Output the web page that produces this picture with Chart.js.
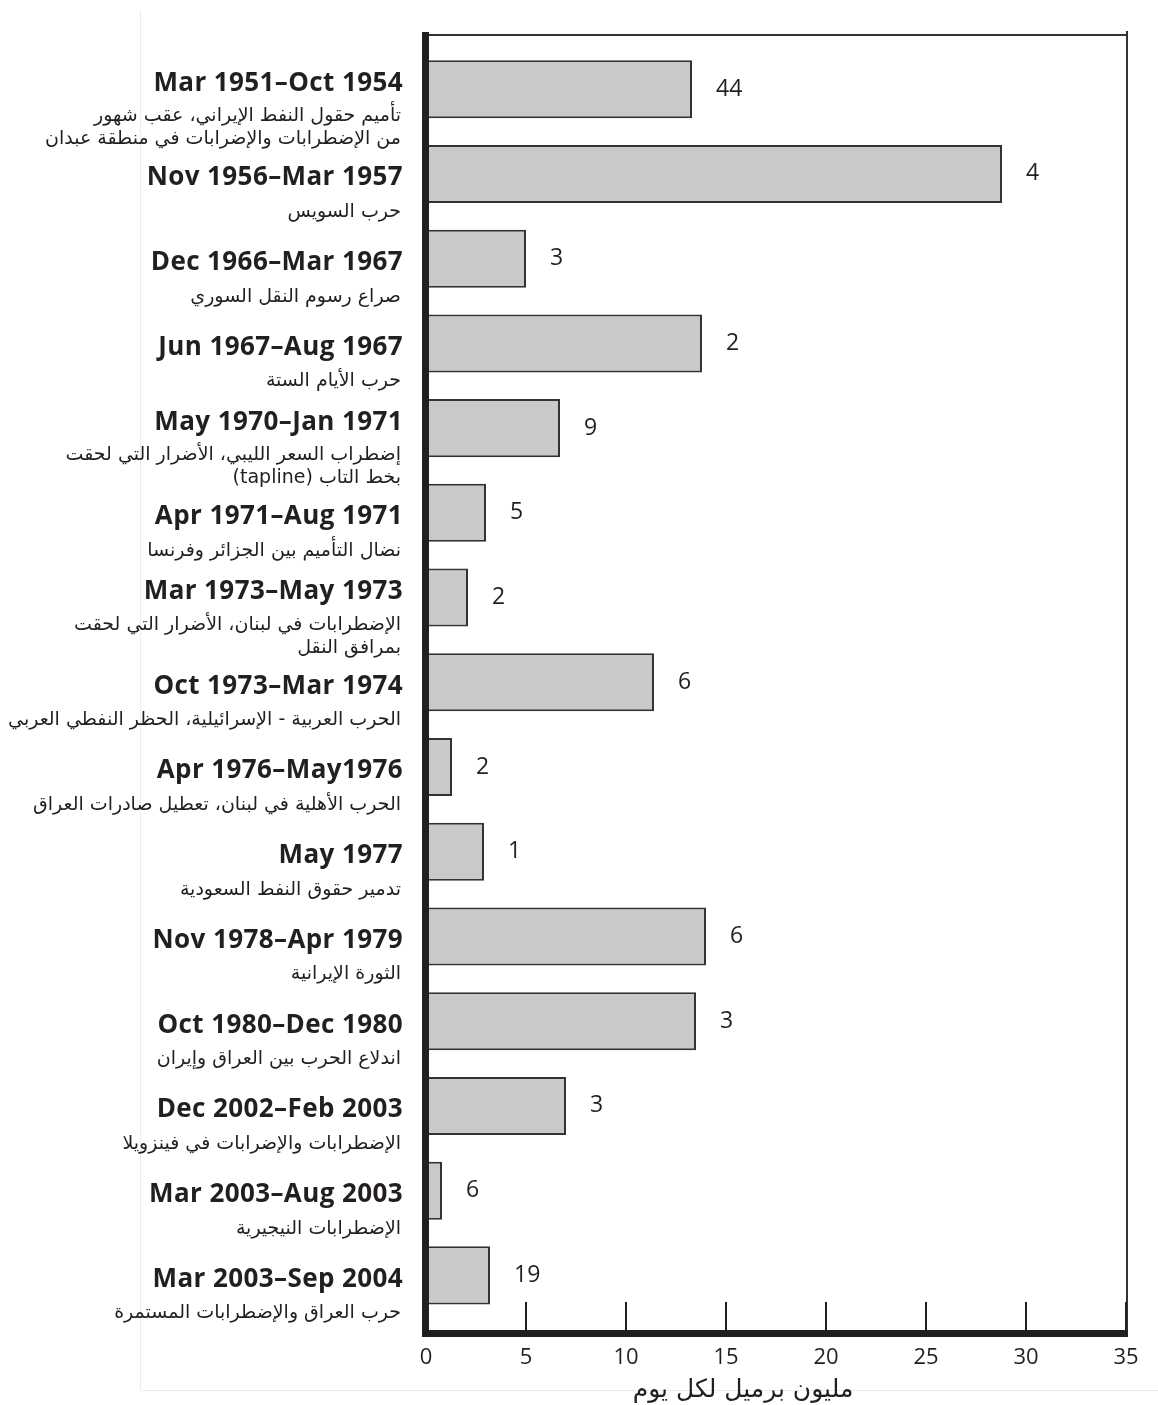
<!DOCTYPE html>
<html>
<head>
<meta charset="utf-8">
<script src="https://cdn.jsdelivr.net/npm/chart.js@4.4.0/dist/chart.umd.min.js"></script>
<style>
  html, body { margin: 0; padding: 0; background: #ffffff; }
  #wrap { width: 1158px; height: 1405px; }
</style>
</head>
<body>
<div id="wrap"><canvas id="c" width="1158" height="1405"></canvas></div>
<script>
// ---- data ----
const categories = [
  'Mar 1951–Oct 1954', 'Nov 1956–Mar 1957', 'Dec 1966–Mar 1967', 'Jun 1967–Aug 1967',
  'May 1970–Jan 1971', 'Apr 1971–Aug 1971', 'Mar 1973–May 1973', 'Oct 1973–Mar 1974',
  'Apr 1976–May1976', 'May 1977', 'Nov 1978–Apr 1979', 'Oct 1980–Dec 1980',
  'Dec 2002–Feb 2003', 'Mar 2003–Aug 2003', 'Mar 2003–Sep 2004'
];
const descriptions = [
  ['تأميم حقول النفط الإيراني، عقب شهور', 'من الإضطرابات والإضرابات في منطقة عبدان'],
  ['حرب السويس'],
  ['صراع رسوم النقل السوري'],
  ['حرب الأيام الستة'],
  ['إضطراب السعر الليبي، الأضرار التي لحقت', 'بخط التاب (tapline)'],
  ['نضال التأميم بين الجزائر وفرنسا'],
  ['الإضطرابات في لبنان، الأضرار التي لحقت', 'بمرافق النقل'],
  ['الحرب العربية - الإسرائيلية، الحظر النفطي العربي'],
  ['الحرب الأهلية في لبنان، تعطيل صادرات العراق'],
  ['تدمير حقوق النفط السعودية'],
  ['الثورة الإيرانية'],
  ['اندلاع الحرب بين العراق وإيران'],
  ['الإضطرابات والإضرابات في فينزويلا'],
  ['الإضطرابات النيجيرية'],
  ['حرب العراق والإضطرابات المستمرة']
];
const values = [13.3, 28.8, 5.0, 13.8, 6.7, 3.0, 2.1, 11.4, 1.3, 2.9, 14.0, 13.5, 7.0, 0.8, 3.2];
const durations = ['44', '4', '3', '2', '9', '5', '2', '6', '2', '1', '6', '3', '3', '6', '19'];
const xMin = 0, xMax = 35, xStep = 5;
const xTitle = 'مليون برميل لكل يوم';

// ---- drawing ----
const latin = '"Open Sans", "Noto Sans", sans-serif';
const arabic = '"DejaVu Sans", sans-serif';
const ink = '#231f20';

const decorPlugin = {
  id: 'decor',
  beforeDraw(chart) {
    const ctx = chart.ctx;
    ctx.save();
    ctx.fillStyle = '#ffffff';
    ctx.fillRect(0, 0, chart.width, chart.height);
    ctx.strokeStyle = '#ececec';
    ctx.lineWidth = 1;
    ctx.beginPath();
    ctx.moveTo(140.5, 10); ctx.lineTo(140.5, 1390.5); ctx.lineTo(chart.width, 1390.5);
    ctx.stroke();
    ctx.restore();
  },
  afterDraw(chart) {
    const ctx = chart.ctx;
    const a = chart.chartArea;
    const xs = chart.scales.x, ys = chart.scales.y;
    ctx.save();
    // thin frame (top & right)
    ctx.strokeStyle = '#333333';
    ctx.lineWidth = 2;
    ctx.beginPath();
    ctx.moveTo(a.left, a.top); ctx.lineTo(a.right + 1, a.top);
    ctx.moveTo(a.right + 1, a.top - 4); ctx.lineTo(a.right + 1, a.bottom);
    ctx.stroke();
    // inward ticks
    ctx.strokeStyle = ink;
    ctx.lineWidth = 2;
    ctx.beginPath();
    xs.ticks.forEach(t => {
      if (t.value === xMin) return;
      const px = Math.round(xs.getPixelForValue(t.value));
      ctx.moveTo(px, a.bottom); ctx.lineTo(px, a.bottom - 31);
    });
    ctx.stroke();
    // thick axes
    ctx.fillStyle = ink;
    ctx.fillRect(a.left - 4, a.top - 3, 7, a.bottom - a.top + 6);
    ctx.fillRect(a.left - 4, a.bottom - 3, a.right - a.left + 6, 7);

    // value labels
    const meta = chart.getDatasetMeta(0);
    ctx.fillStyle = ink;
    ctx.font = '23px ' + latin;
    ctx.textAlign = 'left';
    ctx.textBaseline = 'middle';
    meta.data.forEach((bar, i) => {
      ctx.fillText(durations[i], bar.x + 24, bar.y);
    });

    // category labels
    categories.forEach((c, i) => {
      const yc = ys.getPixelForValue(i);
      const lines = descriptions[i];
      const dateY = lines.length > 1 ? yc - 6 : yc + 4;
      ctx.direction = 'ltr';
      ctx.textAlign = 'right';
      ctx.textBaseline = 'middle';
      ctx.font = 'bold 26px ' + latin;
      ctx.letterSpacing = '0.4px';
      ctx.fillText(c, 403, dateY);
      ctx.letterSpacing = '0px';
      ctx.direction = 'rtl';
      ctx.textAlign = 'right';
      ctx.font = '19px ' + arabic;
      lines.forEach((ln, k) => {
        const ly = lines.length > 1 ? dateY + 33 + k * 23 : dateY + 34;
        ctx.fillText(ln, 401, ly);
      });
    });

    // axis title
    ctx.direction = 'rtl';
    ctx.textAlign = 'center';
    ctx.textBaseline = 'middle';
    ctx.font = '25px ' + arabic;
    ctx.fillText(xTitle, 743, 1390);
    ctx.restore();
  }
};

new Chart(document.getElementById('c'), {
  type: 'bar',
  data: {
    datasets: [{
      data: values.map((v, i) => ({ x: v, y: i })),
      backgroundColor: '#c8c9cb',
      borderColor: '#333333',
      borderWidth: 2,
      barPercentage: 0.685,
      categoryPercentage: 1
    }]
  },
  options: {
    indexAxis: 'y',
    responsive: false,
    animation: false,
    events: [],
    layout: { padding: { left: 426, right: 32, top: 35, bottom: 0 } },
    plugins: { legend: { display: false }, tooltip: { enabled: false } },
    scales: {
      x: {
        type: 'linear',
        min: xMin, max: xMax,
        position: 'bottom',
        grid: { display: false, drawTicks: false },
        border: { display: false },
        ticks: { stepSize: xStep, padding: 12, color: ink, font: { family: latin, size: 22 } },
        afterFit(scale) { scale.height = 72; }
      },
      y: {
        type: 'linear',
        reverse: true,
        offset: false,
        min: -0.64, max: 14.68,
        ticks: { stepSize: 1, includeBounds: false },
        grid: { offset: false },
        display: false
      }
    }
  },
  plugins: [decorPlugin]
});
</script>
</body>
</html>
